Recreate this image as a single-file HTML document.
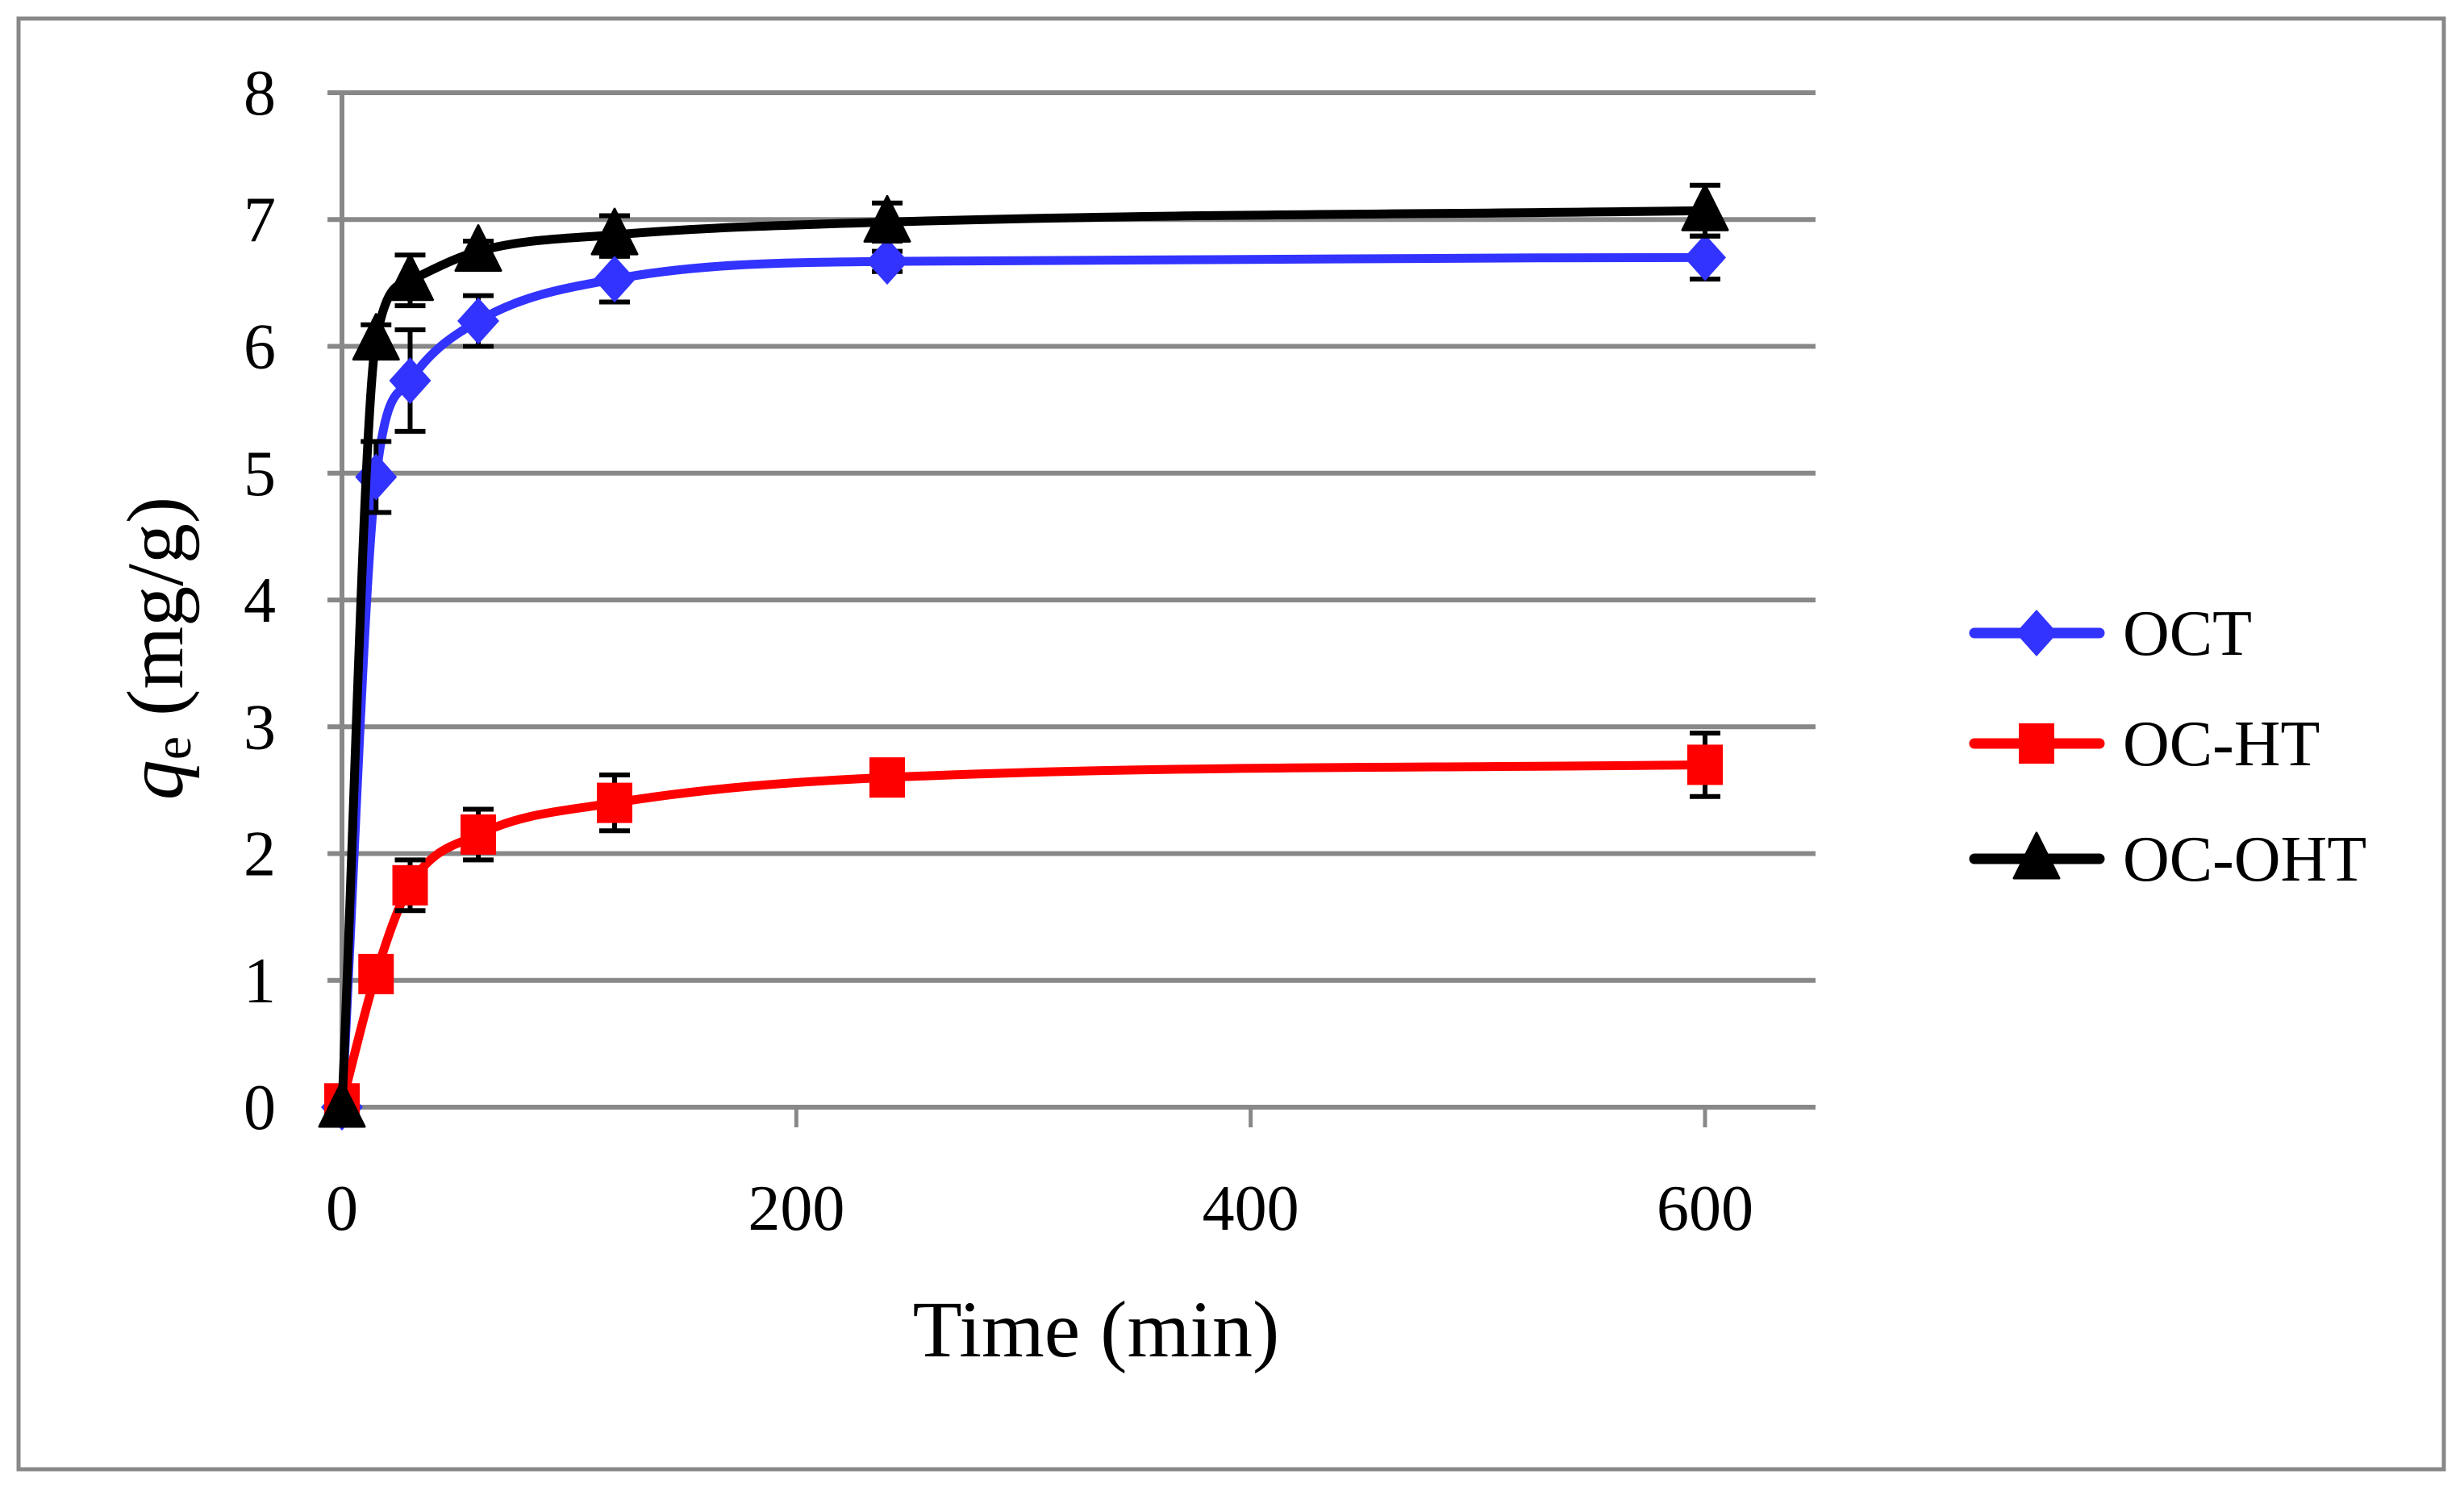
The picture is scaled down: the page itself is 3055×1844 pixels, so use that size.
<!DOCTYPE html>
<html><head><meta charset="utf-8"><style>
html,body{margin:0;padding:0;background:#fff}
svg{display:block;font-family:"Liberation Serif",serif}
</style></head><body>
<svg id="chart" width="3055" height="1844" viewBox="0 0 3055 1844" xmlns="http://www.w3.org/2000/svg">
<rect x="23" y="23" width="3007" height="1799" fill="#fff" stroke="#888" stroke-width="5"/>
<g id="grid"></g>
<g id="axes"></g>
<g id="series"></g>
<text x="1359" y="1682" font-size="100" text-anchor="middle">Time (min)</text>
<text transform="translate(226,804) rotate(-90)" font-size="100" text-anchor="middle"><tspan font-style="italic">q</tspan><tspan font-size="66" dy="10">e</tspan><tspan dy="-10"> (mg/g)</tspan></text>
<g id="legend"></g>
</svg>
<script>
const times=[0,15,30,60,120,240,600];
const seriesNames=["OCT","OC-HT","OC-OHT"];
const octValues=[0,4.97,5.73,6.2,6.53,6.67,6.7];
const octErrors=[0,0.28,0.4,0.2,0.18,0.08,0.17];
const ochtValues=[0.03,1.05,1.75,2.15,2.4,2.6,2.7];
const ochtErrors=[0,0.1,0.2,0.2,0.22,0.1,0.25];
const ocohtValues=[0,6.05,6.52,6.75,6.88,6.98,7.07];
const ocohtErrors=[0,0.12,0.2,0.08,0.15,0.15,0.2];
const xTicks=[0,200,400,600];
const yTicks=[0,1,2,3,4,5,6,7,8];

const NS="http://www.w3.org/2000/svg";
const X0=424,XS=(2114-424)/600,XR=2251,Y0=1373,YS=(1373-115)/8;
const sx=v=>X0+v*XS, sy=v=>Y0-v*YS;
function mk(tag,attrs,parent){const e=document.createElementNS(NS,tag);for(const k in attrs)e.setAttribute(k,attrs[k]);parent.appendChild(e);return e;}
const grid=document.getElementById('grid'),axes=document.getElementById('axes'),ser=document.getElementById('series'),leg=document.getElementById('legend');
yTicks.forEach(t=>{
  const l=mk('line',{x1:X0-18,x2:XR,y1:sy(t),y2:sy(t),stroke:'#888','stroke-width':6},grid);
  
  
  const tx=mk('text',{x:342,y:sy(t)+27,'font-size':80,'text-anchor':'end'},axes);
  tx.textContent=t;
  
  
});
const ya=mk('line',{x1:X0,x2:X0,y1:sy(8),y2:Y0,stroke:'#888','stroke-width':6},axes);


xTicks.forEach(t=>{
  const l=mk('line',{x1:sx(t),x2:sx(t),y1:Y0,y2:Y0+25,stroke:'#888','stroke-width':5},axes);
  
  
  const tx=mk('text',{x:sx(t),y:1525,'font-size':80,'text-anchor':'middle'},axes);
  tx.textContent=t;
  
  
});
function smoothPath(xs,ys){
  const n=xs.length,P=xs.map((x,i)=>[sx(x),sy(ys[i])]);
  const d=[],m=[];
  for(let i=0;i<n-1;i++)d.push((P[i+1][1]-P[i][1])/(P[i+1][0]-P[i][0]));
  m[0]=d[0];m[n-1]=d[n-2];
  for(let i=1;i<n-1;i++)m[i]=(d[i-1]*d[i]<=0)?0:(d[i-1]+d[i])/2;
  for(let i=0;i<n-1;i++){if(d[i]===0){m[i]=m[i+1]=0;continue;}const a=m[i]/d[i],b=m[i+1]/d[i],s=a*a+b*b;if(s>9){const t=3/Math.sqrt(s);m[i]=t*a*d[i];m[i+1]=t*b*d[i];}}
  let p=`M${P[0][0]},${P[0][1]}`;
  for(let i=0;i<n-1;i++){const h=(P[i+1][0]-P[i][0])/3;p+=` C${P[i][0]+h},${P[i][1]+m[i]*h} ${P[i+1][0]-h},${P[i+1][1]-m[i+1]*h} ${P[i+1][0]},${P[i+1][1]}`;}
  return p;
}
function marker(type,cx,cy,color,parent){
  let e;
  if(type==='diamond')e=mk('polygon',{points:`${cx},${cy-29} ${cx+26},${cy} ${cx},${cy+29} ${cx-26},${cy}`,fill:color},parent);
  else if(type==='square')e=mk('rect',{x:cx-22,y:cy-25,width:44,height:50,fill:color},parent);
  else e=mk('polygon',{points:`${cx},${cy-32} ${cx+28},${cy+24} ${cx-28},${cy+24}`,fill:color,'stroke-linejoin':'round',stroke:color,'stroke-width':3},parent);
  return e;
}
const defs=[[octValues,octErrors,'#3333ff','diamond'],[ochtValues,ochtErrors,'#ff0000','square'],[ocohtValues,ocohtErrors,'#000000','triangle']];
defs.forEach(([vals,errs,col,mt],si)=>{
  const g=mk('g',{},ser);
  
  
  const p=mk('path',{d:smoothPath(times,vals),fill:'none',stroke:col,'stroke-width':11,'stroke-linecap':'round'},g);
  
  
  times.forEach((t,i)=>{
    if(errs[i]>0){
      const eb=mk('path',{d:`M${sx(t)},${sy(vals[i]-errs[i])}V${sy(vals[i]+errs[i])}M${sx(t)-19},${sy(vals[i]-errs[i])}h38M${sx(t)-19},${sy(vals[i]+errs[i])}h38`,stroke:'#000','stroke-width':6,fill:'none'},g);
      
      
    }
  });
  times.forEach((t,i)=>{
    const m=marker(mt,sx(t),sy(vals[i]),col,g);
    
    
  });
});
const legY=[785,922,1065];
defs.forEach(([v,e,col,mt],i)=>{
  const g=mk('g',{},leg);
  
  
  mk('line',{x1:2448,x2:2603,y1:legY[i],y2:legY[i],stroke:col,'stroke-width':13,'stroke-linecap':'round'},g);
  marker(mt,2525,legY[i],col,g);
  const tx=mk('text',{x:2632,y:legY[i]+27,'font-size':80},g);
  tx.textContent=seriesNames[i];
});
</script>
</body></html>
